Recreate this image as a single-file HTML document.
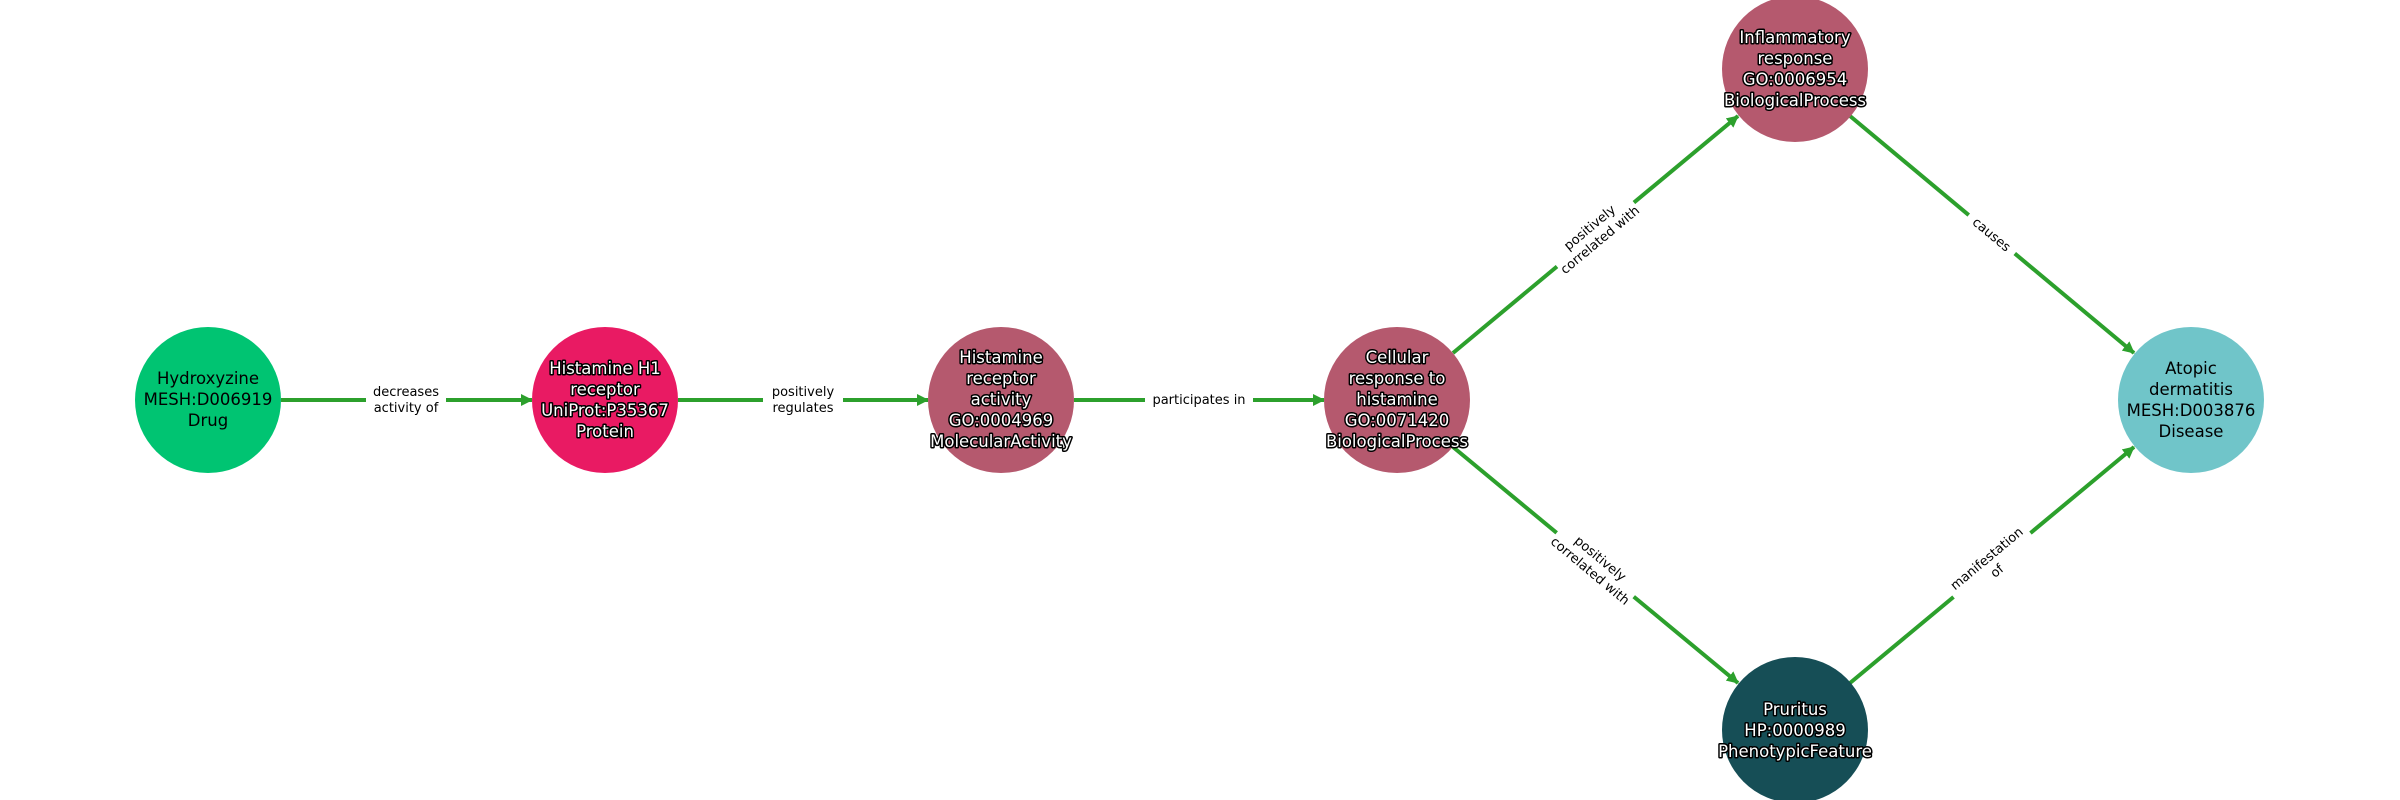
<!DOCTYPE html>
<html><head><meta charset="utf-8"><style>
html,body{margin:0;padding:0;background:#fff;}
svg{display:block;}
.n{font-family:"DejaVu Sans","Liberation Sans",sans-serif;font-size:16.5px;text-anchor:middle;}
.w{fill:#fff;stroke:#000;stroke-width:3px;paint-order:stroke;stroke-linejoin:round;}
.b{fill:#000;}
.e{font-family:"DejaVu Sans","Liberation Sans",sans-serif;font-size:13px;text-anchor:middle;fill:#000;}
</style></head><body>
<svg width="2400" height="800" viewBox="0 0 2400 800" xmlns="http://www.w3.org/2000/svg">
<defs>
<marker id="a" markerWidth="12" markerHeight="12" refX="11" refY="6" orient="auto" markerUnits="userSpaceOnUse">
<path d="M0,0 L12,6 L0,12 z" fill="#2ca02c"/></marker>
</defs>
<g stroke="#2ca02c" stroke-width="4" fill="none" marker-end="url(#a)">
<line x1="281" y1="400" x2="532" y2="400"/>
<line x1="678" y1="400" x2="928" y2="400"/>
<line x1="1074" y1="400" x2="1324" y2="400"/>
<line x1="1453" y1="353" x2="1738" y2="116"/>
<line x1="1453" y1="447" x2="1738" y2="683"/>
<line x1="1850" y1="116" x2="2134" y2="353"/>
<line x1="1850" y1="683" x2="2134" y2="447"/>
</g>
<g fill="#fff">
<rect x="366" y="380" width="80" height="40"/>
<rect x="763" y="380" width="80" height="40"/>
<rect x="1145" y="388" width="108" height="24"/>
<rect x="1545" y="210" width="100" height="48" transform="rotate(-39.8 1595 234)"/>
<rect x="1545" y="541" width="100" height="48" transform="rotate(39.8 1595 565)"/>
<rect x="1962" y="222" width="60" height="24" transform="rotate(39.8 1992 234)"/>
<rect x="1942" y="541" width="100" height="48" transform="rotate(-39.8 1992 565)"/>
</g>
<text class="e" x="406" y="396">decreases</text><text class="e" x="406" y="412">activity of</text>
<text class="e" x="803" y="396">positively</text><text class="e" x="803" y="412">regulates</text>
<text class="e" x="1199" y="404">participates in</text>
<g transform="rotate(-39.8 1595 234)"><text class="e" x="1595" y="230">positively</text><text class="e" x="1595" y="246">correlated with</text></g>
<g transform="rotate(39.8 1595 565)"><text class="e" x="1595" y="561">positively</text><text class="e" x="1595" y="577">correlated with</text></g>
<g transform="rotate(39.8 1992 234)"><text class="e" x="1992" y="239">causes</text></g>
<g transform="rotate(-39.8 1992 565)"><text class="e" x="1992" y="561">manifestation</text><text class="e" x="1992" y="577">of</text></g>
<circle cx="208" cy="400" r="73" fill="#00c472"/>
<circle cx="605" cy="400" r="73" fill="#e91a63"/>
<circle cx="1001" cy="400" r="73" fill="#b5596e"/>
<circle cx="1397" cy="400" r="73" fill="#b5596e"/>
<circle cx="1795" cy="69" r="73" fill="#b5596e"/>
<circle cx="1795" cy="730" r="73" fill="#164e56"/>
<circle cx="2191" cy="400" r="73" fill="#70c5c9"/>
<text class="n b" x="208" y="384">Hydroxyzine</text><text class="n b" x="208" y="405">MESH:D006919</text><text class="n b" x="208" y="426">Drug</text>
<text class="n w" x="605" y="374">Histamine H1</text><text class="n w" x="605" y="395">receptor</text><text class="n w" x="605" y="416">UniProt:P35367</text><text class="n w" x="605" y="437">Protein</text>
<text class="n w" x="1001" y="363">Histamine</text><text class="n w" x="1001" y="384">receptor</text><text class="n w" x="1001" y="405">activity</text><text class="n w" x="1001" y="426">GO:0004969</text><text class="n w" x="1001" y="447">MolecularActivity</text>
<text class="n w" x="1397" y="363">Cellular</text><text class="n w" x="1397" y="384">response to</text><text class="n w" x="1397" y="405">histamine</text><text class="n w" x="1397" y="426">GO:0071420</text><text class="n w" x="1397" y="447">BiologicalProcess</text>
<text class="n w" x="1795" y="43">Inflammatory</text><text class="n w" x="1795" y="64">response</text><text class="n w" x="1795" y="85">GO:0006954</text><text class="n w" x="1795" y="106">BiologicalProcess</text>
<text class="n w" x="1795" y="715">Pruritus</text><text class="n w" x="1795" y="736">HP:0000989</text><text class="n w" x="1795" y="757">PhenotypicFeature</text>
<text class="n b" x="2191" y="374">Atopic</text><text class="n b" x="2191" y="395">dermatitis</text><text class="n b" x="2191" y="416">MESH:D003876</text><text class="n b" x="2191" y="437">Disease</text>
</svg>
</body></html>
